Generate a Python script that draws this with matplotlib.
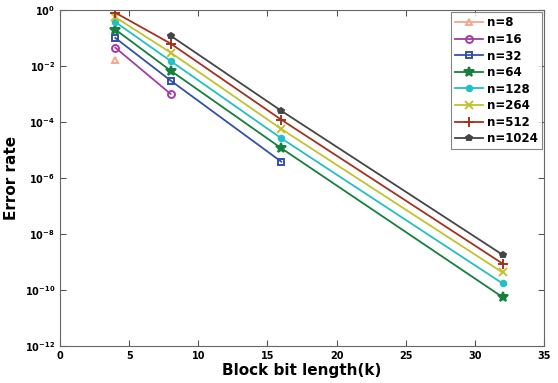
import matplotlib
matplotlib.use("Agg")
import matplotlib.pyplot as plt
import numpy as np

labels = ["n=8", "n=16", "n=32", "n=64", "n=128", "n=264", "n=512", "n=1024"]
k_vals = [[4], [4, 8], [4, 8, 16], [4, 8, 16, 32], [4, 8, 16, 32],
          [4, 8, 16, 32], [4, 8, 16, 32], [8, 16, 32]]
err = [[0.016],
       [0.045, 0.001],
       [0.1, 0.003, 3.8e-6],
       [0.2, 0.0068, 1.15e-5, 5.5e-11],
       [0.37, 0.015, 2.6e-5, 1.7e-10],
       [0.55, 0.03, 5.6e-5, 4.2e-10],
       [0.8, 0.063, 1.2e-4, 8.7e-10],
       [0.12, 2.5e-4, 1.8e-9]]
colors = ["#f5a690", "#a33ca3", "#3550a8", "#15803d", "#22bfc4",
          "#c2c22e", "#a3321f", "#454545"]
markers = ["^", "o", "s", "*", "o", "x", "+", "p"]
msizes = [5, 5, 4, 7, 4, 6, 7, 4]
filled = [False, False, False, True, True, True, True, True]

fig = plt.figure(figsize=(5.58, 3.83), dpi=100)
ax = fig.add_axes([0.1075, 0.097, 0.8675, 0.877])

for i in range(len(labels)):
    fc = colors[i] if filled[i] else "none"
    ax.plot(k_vals[i], err[i], color=colors[i], marker=markers[i],
            markersize=msizes[i], markerfacecolor=fc, markeredgecolor=colors[i],
            markeredgewidth=1.4, linewidth=1.3, label=labels[i])

ax.set_yscale("log")
ax.set_xlim(0, 35)
ax.set_ylim(1e-12, 1)
ax.set_xticks(np.arange(0, 36, 5))
ax.set_yticks([10.0**e for e in range(-12, 1, 2)])
ax.set_yticklabels([r"$\mathbf{10^{%d}}$" % e for e in range(-12, 1, 2)])
ax.yaxis.set_minor_locator(matplotlib.ticker.NullLocator())
ax.tick_params(direction="in", top=True, right=True, labelsize=7, colors="#555555",
               labelcolor="black", length=4)
for lab in ax.get_xticklabels():
    lab.set_fontweight("bold")
for s in ax.spines.values():
    s.set_color("#666666")

ax.set_xlabel("Block bit length(k)", fontsize=11, fontweight="bold", labelpad=2)
ax.set_ylabel("Error rate", fontsize=11, fontweight="bold", labelpad=4)

leg = ax.legend(loc="upper right", prop={"weight": "bold", "size": 8.5},
                fancybox=False, edgecolor="#666666", handlelength=2.4,
                borderpad=0.35, labelspacing=0.3, handletextpad=0.3,
                borderaxespad=0.2)
leg.get_frame().set_linewidth(0.8)

fig.savefig("out.png", dpi=100)
